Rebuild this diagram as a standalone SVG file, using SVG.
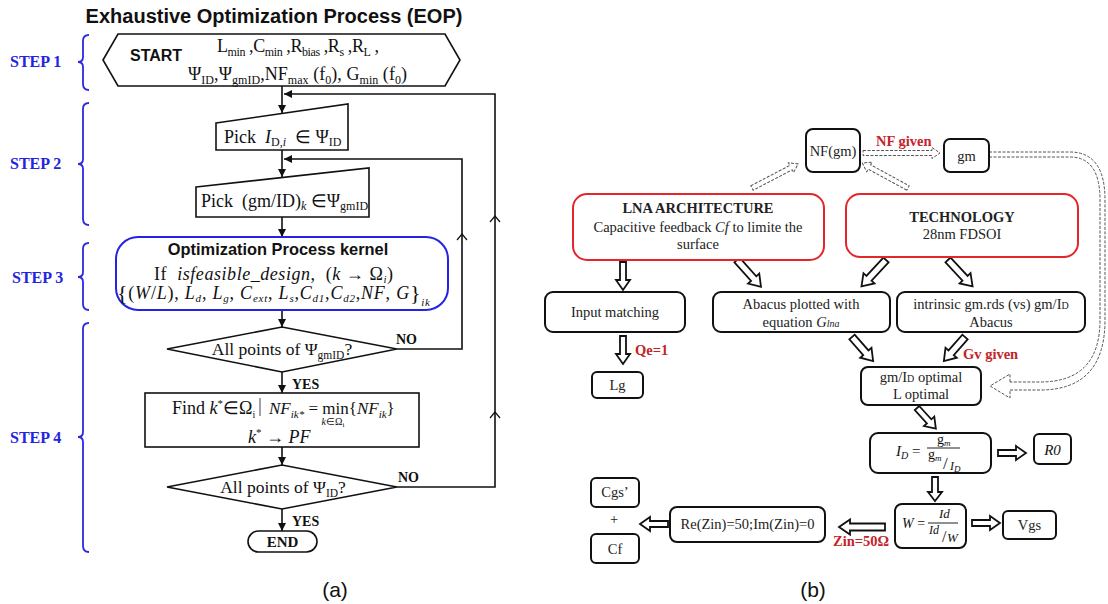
<svg xmlns="http://www.w3.org/2000/svg" width="1108" height="604" viewBox="0 0 1108 604">
<style>
 .ln{fill:none;stroke:#111;stroke-width:1.6}
 .sh{fill:#fff;stroke:#111;stroke-width:1.6}
 .kb{fill:#fff;stroke:#2323e4;stroke-width:2}
 .br{fill:none;stroke:#2a2ae0;stroke-width:1.8}
 .st{font-family:"Liberation Serif","Times New Roman",serif;font-weight:bold;font-size:16px;fill:#2424e0}
 .sans{font-family:"Liberation Sans",Arial,sans-serif;fill:#111}
 .ser{font-family:"Liberation Serif","Times New Roman",serif;fill:#111}
 .lab{font-family:"Liberation Serif","Times New Roman",serif;font-weight:bold;font-size:14px;fill:#111}
 .box{fill:#fff;stroke:#111;stroke-width:2}
 .rbox{fill:#fff;stroke:#e4252b;stroke-width:2}
 .rt{font-family:"Liberation Serif","Times New Roman",serif;font-size:14.5px;fill:#222}
 .red{font-family:"Liberation Serif","Times New Roman",serif;font-weight:bold;font-size:14.5px;fill:#c3242a}
 .ha{fill:#fff;stroke:#111;stroke-width:1.8}
 .da{fill:#fff;stroke:#555;stroke-width:1;stroke-dasharray:3 1.5}
 .dl{fill:none;stroke:#555;stroke-width:1;stroke-dasharray:3 1.5}
 .it{font-style:italic}
 .ch{fill:none;stroke:#111;stroke-width:1.2}
</style>
<defs>
 <marker id="ah" viewBox="0 0 10 10" refX="10" refY="5" markerWidth="9" markerHeight="8" markerUnits="userSpaceOnUse" orient="auto"><path d="M0,0 L10,5 L0,10 Z" fill="#111"/></marker>
 <path id="a24" d="M0,-3 H15 V-7 L24,0 L15,7 V3 H0 Z"/>
 <path id="a28" d="M0,-3 H18 V-7 L28,0 L18,7 V3 H0 Z"/>
 <path id="a32" d="M0,-3.5 H21 V-7.5 L32,0 L21,7.5 V3.5 H0 Z"/>
 <path id="a36" d="M0,-3.5 H25 V-7.5 L36,0 L25,7.5 V3.5 H0 Z"/>
 <path id="a46" d="M0,-3.5 H35 V-7.5 L46,0 L35,7.5 V3.5 H0 Z"/>
 <path id="d77" d="M0,-2.5 H69 V-5.5 L77,0 L69,5.5 V2.5 H0 Z"/>
 <path id="d52" d="M0,-2.5 H44 V-5.5 L52,0 L44,5.5 V2.5 H0 Z"/>
</defs>
<rect width="1108" height="604" fill="#fff"/>

<!-- ========== (a) ========== -->
<text class="sans" font-weight="bold" font-size="20" x="274" y="23" text-anchor="middle">Exhaustive Optimization Process (EOP)</text>

<g id="steps">
 <text class="st" x="10" y="67">STEP 1</text>
 <path class="br" d="M89,35 Q83,35 83,41 V57 Q83,62 78,62 Q83,62 83,67 V84 Q83,90 89,90"/>
 <text class="st" x="10" y="169">STEP 2</text>
 <path class="br" d="M89,103 Q83,103 83,109 V159 Q83,164 78,164 Q83,164 83,169 V219 Q83,225 89,225"/>
 <text class="st" x="12" y="283">STEP 3</text>
 <path class="br" d="M89,243 Q83,243 83,249 V272 Q83,277 78,277 Q83,277 83,282 V304 Q83,310 89,310"/>
 <text class="st" x="10" y="443">STEP 4</text>
 <path class="br" d="M89,323 Q83,323 83,329 V432 Q83,437 78,437 Q83,437 83,442 V546 Q83,552 89,552"/>
</g>

<g id="connectors-a">
 <line class="ln" x1="282" y1="86" x2="282" y2="113" marker-end="url(#ah)"/>
 <line class="ln" x1="282" y1="150" x2="282" y2="177" marker-end="url(#ah)"/>
 <line class="ln" x1="282" y1="217" x2="282" y2="237" marker-end="url(#ah)"/>
 <line class="ln" x1="282" y1="310" x2="282" y2="327" marker-end="url(#ah)"/>
 <line class="ln" x1="282" y1="372" x2="282" y2="393" marker-end="url(#ah)"/>
 <line class="ln" x1="282" y1="447" x2="282" y2="465" marker-end="url(#ah)"/>
 <line class="ln" x1="282" y1="509" x2="282" y2="531" marker-end="url(#ah)"/>
 <polyline class="ln" points="397,349 462,349 462,159 284,159" marker-end="url(#ah)"/>
 <polyline class="ln" points="397,487 495,487 495,94 284,94" marker-end="url(#ah)"/>
 <path class="ch" d="M457,240 L462,234 L467,240"/>
 <path class="ch" d="M490,222 L495,216 L500,222"/>
 <path class="ch" d="M490,418 L495,412 L500,418"/>
 <text class="lab" x="292" y="389">YES</text>
 <text class="lab" x="292" y="526">YES</text>
 <text class="lab" x="396" y="344">NO</text>
 <text class="lab" x="398" y="482">NO</text>
</g>

<g id="start">
 <polygon class="sh" points="103,60 118,34 445,34 460,60 445,86 118,86"/>
 <text class="sans" font-weight="bold" font-size="16" x="130" y="61">START</text>
 <text class="ser" font-size="18" x="217" y="52" textLength="162" lengthAdjust="spacing">L<tspan font-size="12" dy="4">min</tspan><tspan dy="-4"> ,C</tspan><tspan font-size="12" dy="4">min</tspan><tspan dy="-4"> ,R</tspan><tspan font-size="12" dy="4">bias</tspan><tspan dy="-4"> ,R</tspan><tspan font-size="12" dy="4">s</tspan><tspan dy="-4"> ,R</tspan><tspan font-size="12" dy="4">L</tspan><tspan dy="-4"> ,</tspan></text>
 <text class="ser" font-size="18" x="188" y="80" textLength="219" lengthAdjust="spacing">Ψ<tspan font-size="12" dy="4">ID</tspan><tspan dy="-4">,Ψ</tspan><tspan font-size="12" dy="4">gmID</tspan><tspan dy="-4">,NF</tspan><tspan font-size="12" dy="4">max</tspan><tspan dy="-4"> (f</tspan><tspan font-size="12" dy="4">0</tspan><tspan dy="-4">), G</tspan><tspan font-size="12" dy="4">min</tspan><tspan dy="-4"> (f</tspan><tspan font-size="12" dy="4">0</tspan><tspan dy="-4">)</tspan></text>
</g>

<g id="pick-id">
 <polygon class="sh" points="216,123 348,104 348,150 216,150"/>
 <text class="ser" font-size="18" x="224" y="143">Pick&#160; <tspan class="it">I</tspan><tspan font-size="12" dy="3">D,<tspan class="it">i</tspan></tspan><tspan dy="-3">&#160; ∈ Ψ</tspan><tspan font-size="12" dy="3">ID</tspan></text>
</g>

<g id="pick-gmid">
 <polygon class="sh" points="196,187 369,168 369,217 196,217"/>
 <text class="ser" font-size="18" x="201" y="207">Pick&#160; (gm/ID)<tspan class="it" font-size="12" dy="3">k</tspan><tspan dy="-3"> ∈Ψ</tspan><tspan font-size="12" dy="3">gmID</tspan></text>
</g>

<g id="kernel">
 <rect class="kb" x="116" y="237" width="332" height="73" rx="22"/>
 <text class="sans" font-weight="bold" font-size="16.4" x="278" y="255" text-anchor="middle">Optimization Process kernel</text>
 <text class="ser" font-size="18" x="154" y="280" textLength="239" lengthAdjust="spacing">If&#160; <tspan class="it">isfeasible_design</tspan>,&#160; (<tspan class="it">k</tspan> → Ω<tspan class="it" font-size="11" dy="3">i</tspan><tspan dy="-3">)</tspan></text>
 <text class="ser" font-size="18" x="117" y="299" textLength="313" lengthAdjust="spacing"><tspan font-size="22" dy="1">{</tspan><tspan dy="-1">(</tspan><tspan class="it">W</tspan>/<tspan class="it">L</tspan>), <tspan class="it">L</tspan><tspan class="it" font-size="11" dy="3">d</tspan><tspan dy="-3">, </tspan><tspan class="it">L</tspan><tspan class="it" font-size="11" dy="3">g</tspan><tspan dy="-3">, </tspan><tspan class="it">C</tspan><tspan class="it" font-size="11" dy="3">ext</tspan><tspan dy="-3">, </tspan><tspan class="it">L</tspan><tspan class="it" font-size="11" dy="3">s</tspan><tspan dy="-3">,</tspan><tspan class="it">C</tspan><tspan class="it" font-size="11" dy="3">d1</tspan><tspan dy="-3">,</tspan><tspan class="it">C</tspan><tspan class="it" font-size="11" dy="3">d2</tspan><tspan dy="-3">,</tspan><tspan class="it">NF</tspan>, <tspan class="it">G</tspan><tspan font-size="22" dy="1">}</tspan><tspan class="it" font-size="11" dy="6">ik</tspan></text>
</g>

<g id="decision-gmid">
 <polygon class="sh" points="167,349 282,327 397,349 282,372"/>
 <text class="ser" font-size="17.5" x="282" y="355" text-anchor="middle">All points of Ψ<tspan font-size="11.5" dy="4">gmID</tspan><tspan dy="-4">?</tspan></text>
</g>

<g id="find">
 <rect class="sh" x="145" y="393" width="274" height="54"/>
 <text class="ser" font-size="18" x="172" y="414">Find <tspan class="it">k</tspan><tspan font-size="11" dy="-7">*</tspan><tspan dy="7">∈Ω</tspan><tspan font-size="10" dy="4">i</tspan></text>
 <line x1="260" y1="398" x2="260" y2="416" stroke="#444" stroke-width="1"/>
 <text class="ser" font-size="17" x="269" y="414"><tspan class="it">NF</tspan><tspan class="it" font-size="11" dy="4">ik*</tspan><tspan dy="-4"> = min{</tspan><tspan class="it">NF</tspan><tspan class="it" font-size="11" dy="4">ik</tspan><tspan dy="-4">}</tspan></text>
 <text class="ser" font-size="10" x="333" y="425" text-anchor="middle"><tspan class="it">k</tspan>∈Ω<tspan font-size="7" dy="2">i</tspan></text>
 <text class="ser" font-size="18" x="248" y="443"><tspan class="it">k</tspan><tspan font-size="11" dy="-7">*</tspan><tspan dy="7"> → </tspan><tspan class="it">PF</tspan></text>
</g>

<g id="decision-id">
 <polygon class="sh" points="167,487 282,465 397,487 282,509"/>
 <text class="ser" font-size="17.5" x="283" y="493" text-anchor="middle">All points of Ψ<tspan font-size="11.5" dy="4">ID</tspan><tspan dy="-4">?</tspan></text>
</g>

<g id="end">
 <rect class="sh" x="248" y="531" width="69" height="21" rx="10.5"/>
 <text class="ser" font-weight="bold" font-size="15" x="282.5" y="547" text-anchor="middle">END</text>
</g>

<text class="sans" font-size="21" x="335" y="597" text-anchor="middle">(a)</text>

<!-- ========== (b) ========== -->
<g id="connectors-b">
 <use href="#d77" class="da" transform="translate(863,153)"/>
 <use href="#d52" class="da" transform="translate(752,188) rotate(-27.6)"/>
 <use href="#d52" class="da" transform="translate(908,188) rotate(-151.4)"/>
 <path class="dl" d="M989,152 H1070 Q1105,152 1105,200 V320 Q1105,390 1040,390 H1010"/>
 <path class="dl" d="M989,157 H1070 Q1100,157 1100,200 V320 Q1100,382 1040,382 H1010"/>
 <path class="da" d="M1010,382 V374 L990,386 L1010,398 V390"/>

 <use href="#a28" class="ha" transform="translate(623,262) rotate(90)"/>
 <use href="#a36" class="ha" transform="translate(737,260) rotate(48.2)"/>
 <use href="#a36" class="ha" transform="translate(886,260) rotate(132.9)"/>
 <use href="#a36" class="ha" transform="translate(948,260) rotate(47)"/>
 <use href="#a28" class="ha" transform="translate(623,336) rotate(90)"/>
 <use href="#a32" class="ha" transform="translate(852,337) rotate(48.7)"/>
 <use href="#a32" class="ha" transform="translate(965,337) rotate(131.3)"/>
 <use href="#a28" class="ha" transform="translate(917,408) rotate(47.7)"/>
 <use href="#a28" class="ha" transform="translate(998,453)"/>
 <use href="#a24" class="ha" transform="translate(935,477) rotate(90)"/>
 <use href="#a28" class="ha" transform="translate(972,523)"/>
 <use href="#a46" class="ha" transform="translate(885,527) rotate(180)"/>
 <use href="#a28" class="ha" transform="translate(668,524) rotate(180)"/>

 <text class="red" x="876" y="146">NF given</text>
 <text class="red" x="635" y="355">Qe=1</text>
 <text class="red" x="963" y="359">Gv given</text>
 <text class="red" x="833" y="546">Zin=50Ω</text>
</g>

<g id="nf-gm">
 <rect class="box" x="806" y="129" width="54" height="43" rx="7"/>
 <text class="rt" x="833" y="156" text-anchor="middle">NF(gm)</text>
</g>
<g id="gm">
 <rect class="box" x="944" y="139" width="45" height="33" rx="6"/>
 <text class="rt" x="966.5" y="161" text-anchor="middle">gm</text>
</g>
<g id="lna">
 <rect class="rbox" x="573" y="194" width="251" height="66" rx="14"/>
 <text class="rt" font-weight="bold" x="698" y="213" text-anchor="middle">LNA ARCHITECTURE</text>
 <text class="rt" x="698" y="232" text-anchor="middle">Capacitive feedback <tspan class="it">Cf</tspan> to limite the</text>
 <text class="rt" x="698" y="249" text-anchor="middle">surface</text>
</g>
<g id="technology">
 <rect class="rbox" x="846" y="194" width="232" height="63" rx="14"/>
 <text class="rt" font-weight="bold" x="962" y="222" text-anchor="middle">TECHNOLOGY</text>
 <text class="rt" x="962" y="239" text-anchor="middle">28nm FDSOI</text>
</g>
<g id="input-matching">
 <rect class="box" x="545" y="292" width="140" height="40" rx="8"/>
 <text class="rt" x="615" y="317" text-anchor="middle">Input matching</text>
</g>
<g id="abacus-glna">
 <rect class="box" x="713" y="292" width="177" height="40" rx="8"/>
 <text class="rt" x="801" y="309" text-anchor="middle">Abacus plotted with</text>
 <text class="rt" x="801" y="327" text-anchor="middle">equation <tspan class="it">G</tspan><tspan class="it" font-size="10">lna</tspan></text>
</g>
<g id="intrinsic">
 <rect class="box" x="897" y="292" width="188" height="40" rx="8"/>
 <text class="rt" x="991" y="309" text-anchor="middle">intrinsic gm.rds (vs) gm/I<tspan font-size="10">D</tspan></text>
 <text class="rt" x="991" y="327" text-anchor="middle">Abacus</text>
</g>
<g id="lg">
 <rect class="box" x="592" y="372" width="51" height="26" rx="5"/>
 <text class="rt" x="617.5" y="390" text-anchor="middle">Lg</text>
</g>
<g id="gmid-optimal">
 <rect class="box" x="861" y="367" width="120" height="38" rx="7"/>
 <text class="rt" x="921" y="382" text-anchor="middle">gm/I<tspan font-size="10">D</tspan> optimal</text>
 <text class="rt" x="921" y="399" text-anchor="middle">L optimal</text>
</g>
<g id="id-formula">
 <rect class="box" x="870" y="433" width="121" height="40" rx="8"/>
 <text class="ser it" font-size="15" x="896" y="456">I<tspan font-size="10" dy="3">D</tspan><tspan dy="-3" font-style="normal"> =</tspan></text>
 <line x1="927" y1="448" x2="960" y2="448" stroke="#222" stroke-width="1"/>
 <text class="ser" font-size="14" x="937" y="444">g<tspan class="it" font-size="9" dy="2">m</tspan></text>
 <text class="ser" font-size="14" x="928" y="459">g<tspan class="it" font-size="9" dy="2">m</tspan></text>
 <text class="ser" font-size="17" x="943" y="469">/</text>
 <text class="ser it" font-size="12" x="950" y="470">I<tspan font-size="9" dy="2">D</tspan></text>
</g>
<g id="r0">
 <rect class="box" x="1034" y="434" width="37" height="30" rx="5"/>
 <text class="ser it" font-size="15" x="1052.5" y="455" text-anchor="middle">R0</text>
</g>
<g id="w-formula">
 <rect class="box" x="895" y="504" width="71" height="44" rx="7"/>
 <text class="ser it" font-size="14" x="902" y="528">W <tspan font-style="normal">=</tspan></text>
 <line x1="928" y1="523" x2="958" y2="523" stroke="#222" stroke-width="1"/>
 <text class="ser it" font-size="13" x="939" y="518">Id</text>
 <text class="ser it" font-size="12" x="929" y="534">Id</text>
 <text class="ser" font-size="16" x="942" y="542">/</text>
 <text class="ser it" font-size="13" x="947" y="542">W</text>
</g>
<g id="vgs">
 <rect class="box" x="1003" y="511" width="53" height="28" rx="5"/>
 <text class="rt" x="1029.5" y="530" text-anchor="middle">Vgs</text>
</g>
<g id="re-zin">
 <rect class="box" x="670" y="507" width="155" height="35" rx="7"/>
 <text class="rt" x="747.5" y="529" text-anchor="middle">Re(Zin)=50;Im(Zin)=0</text>
</g>
<g id="cgs">
 <rect class="box" x="591" y="478" width="48" height="29" rx="5"/>
 <text class="rt" x="615" y="497" text-anchor="middle">Cgs’</text>
</g>
<text class="rt" x="614" y="524" text-anchor="middle">+</text>
<g id="cf">
 <rect class="box" x="591" y="534" width="48" height="29" rx="5"/>
 <text class="rt" x="615" y="554" text-anchor="middle">Cf</text>
</g>

<text class="sans" font-size="21" x="813" y="597" text-anchor="middle">(b)</text>
</svg>
